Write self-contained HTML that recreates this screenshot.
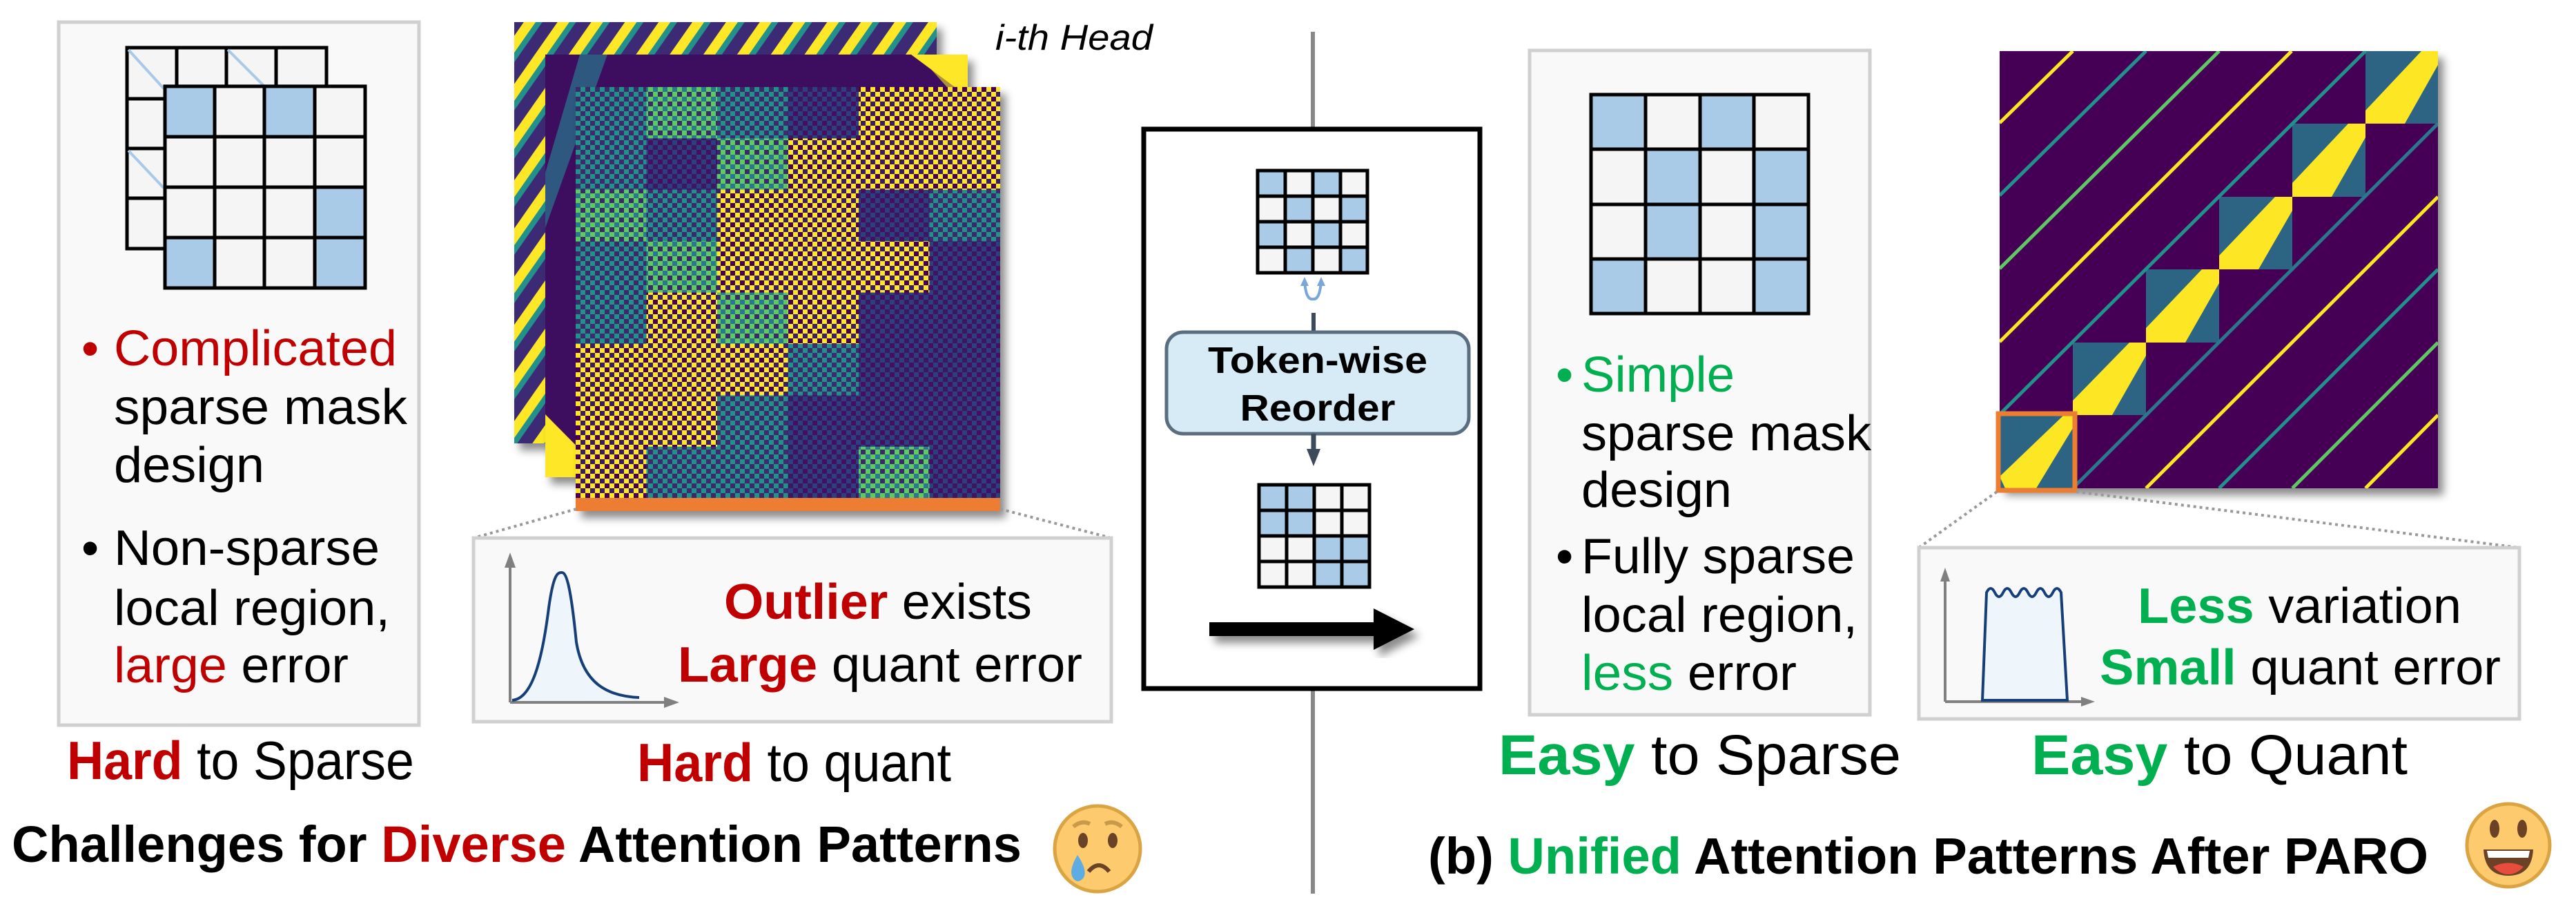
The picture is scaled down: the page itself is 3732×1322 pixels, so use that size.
<!DOCTYPE html>
<html><head><meta charset="utf-8"><style>
html,body{margin:0;padding:0;background:#fff;}
svg{display:block;}
text{font-family:"Liberation Sans",sans-serif;}
</style></head><body>
<svg width="3732" height="1322" viewBox="0 0 3732 1322" xmlns="http://www.w3.org/2000/svg">
<defs>
<filter id="sh" x="-10%" y="-10%" width="130%" height="130%"><feDropShadow dx="8" dy="10" stdDeviation="6" flood-color="#000" flood-opacity="0.45"/></filter>
<pattern id="pA" width="14" height="14" patternUnits="userSpaceOnUse"><rect width="14" height="14" fill="#fde725"/><rect width="7" height="7" fill="#440154"/><rect x="7" y="7" width="7" height="7" fill="#3b1c68"/></pattern>
<pattern id="pB" width="14" height="14" patternUnits="userSpaceOnUse"><rect width="14" height="14" fill="#21918c"/><rect width="7" height="7" fill="#3b2a6b"/><rect x="7" y="7" width="7" height="7" fill="#40296e"/></pattern>
<pattern id="pC" width="14" height="14" patternUnits="userSpaceOnUse"><rect width="14" height="14" fill="#5ec962"/><rect width="7" height="7" fill="#2a788e"/><rect x="7" y="7" width="7" height="7" fill="#3b2a6b"/></pattern>
<pattern id="pD" width="14" height="14" patternUnits="userSpaceOnUse"><rect width="14" height="14" fill="#2c3f7f"/><rect width="7" height="7" fill="#3e1860"/><rect x="7" y="7" width="7" height="7" fill="#471063"/></pattern>
<pattern id="pS" width="40" height="40" patternUnits="userSpaceOnUse" patternTransform="rotate(35)"><rect width="40" height="40" fill="#3d2a74"/><rect width="14" height="40" fill="#fde725"/><rect x="14" width="8" height="40" fill="#21918c"/></pattern>
<clipPath id="cR"><rect x="2897" y="74" width="635" height="633"/></clipPath>
</defs>

<!-- LEFT BOX -->
<rect x="85" y="32" width="522" height="1018" fill="#f9f9f9" stroke="#d0d0d0" stroke-width="5"/>
<!-- back grid -->
<g stroke="#000" stroke-width="5" fill="#f5f5f5">
<rect x="184" y="69" width="289" height="291"/>
<line x1="256" y1="69" x2="256" y2="125"/><line x1="328" y1="69" x2="328" y2="125"/><line x1="400" y1="69" x2="400" y2="125"/>
<line x1="184" y1="143" x2="239" y2="143"/><line x1="184" y1="215" x2="239" y2="215"/><line x1="184" y1="287" x2="239" y2="287"/>
</g>
<g stroke="#a9c9e8" stroke-width="4"><line x1="186" y1="72" x2="237" y2="128"/><line x1="330" y1="72" x2="383" y2="125"/><line x1="186" y1="218" x2="237" y2="272"/></g>
<!-- front grid -->
<rect x="239" y="125" width="290" height="292" fill="#f5f5f5"/>
<g fill="#aacbe8"><rect x="239" y="125" width="72" height="73"/><rect x="383" y="125" width="73" height="73"/><rect x="456" y="271" width="73" height="73"/><rect x="239" y="344" width="72" height="73"/><rect x="456" y="344" width="73" height="73"/></g>
<g stroke="#000" stroke-width="5" fill="none"><rect x="239" y="125" width="290" height="292"/>
<line x1="311" y1="125" x2="311" y2="417"/><line x1="383" y1="125" x2="383" y2="417"/><line x1="456" y1="125" x2="456" y2="417"/>
<line x1="239" y1="198" x2="529" y2="198"/><line x1="239" y1="271" x2="529" y2="271"/><line x1="239" y1="344" x2="529" y2="344"/></g>
<g font-size="72">
<text x="118" y="529" fill="#c00000">•</text>
<text x="165" y="529" fill="#c00000" textLength="410" lengthAdjust="spacingAndGlyphs">Complicated</text>
<text x="165" y="614" textLength="425" lengthAdjust="spacingAndGlyphs">sparse mask</text>
<text x="165" y="698" textLength="218" lengthAdjust="spacingAndGlyphs">design</text>
<text x="118" y="818">•</text>
<text x="165" y="818" textLength="385" lengthAdjust="spacingAndGlyphs">Non-sparse</text>
<text x="165" y="905" textLength="400" lengthAdjust="spacingAndGlyphs">local region,</text>
<text x="165" y="988" textLength="340" lengthAdjust="spacingAndGlyphs"><tspan fill="#c00000">large</tspan> error</text>
</g>
<text x="97" y="1128" font-size="78" textLength="503" lengthAdjust="spacingAndGlyphs"><tspan fill="#c00000" font-weight="bold">Hard</tspan> to Sparse</text>

<!-- LEFT HEATMAPS -->
<rect x="745" y="32" width="612" height="610" fill="url(#pS)" filter="url(#sh)"/>
<g filter="url(#sh)">
<rect x="790" y="79" width="612" height="612" fill="#3e0f5e"/>
<polygon points="790,79 1402,79 1402,160 1330,79" fill="#fde725" opacity="0.6"/>
<polygon points="1320,79 1402,79 1402,140" fill="#fde725"/>
<polygon points="790,600 790,691 880,691" fill="#fde725"/>
<polygon points="790,250 840,79 880,79 790,330" fill="#2a788e" opacity="0.7"/>
</g>
<g filter="url(#sh)">
<g transform="translate(834,126)">
<rect width="615" height="595" fill="url(#pB)"/>
<!-- blocks 6 cols x 8 rows, w=102.5 h=74.4 -->
<rect x="102.5" y="0" width="102.5" height="74.4" fill="url(#pC)"/>
<rect x="307.5" y="0" width="102.5" height="74.4" fill="url(#pD)"/>
<rect x="410" y="0" width="205" height="148.8" fill="url(#pA)"/>
<rect x="102.5" y="74.4" width="102.5" height="74.4" fill="url(#pD)"/>
<rect x="205" y="74.4" width="102.5" height="74.4" fill="url(#pC)"/>
<rect x="307.5" y="74.4" width="102.5" height="74.4" fill="url(#pA)"/>
<rect x="0" y="148.8" width="102.5" height="74.4" fill="url(#pC)"/>
<rect x="205" y="148.8" width="205" height="148.8" fill="url(#pA)"/>
<rect x="410" y="148.8" width="102.5" height="74.4" fill="url(#pD)"/>
<rect x="102.5" y="223.2" width="102.5" height="74.4" fill="url(#pC)"/>
<rect x="410" y="223.2" width="102.5" height="74.4" fill="url(#pA)"/>
<rect x="512.5" y="223.2" width="102.5" height="74.4" fill="url(#pD)"/>
<rect x="102.5" y="297.6" width="102.5" height="74.4" fill="url(#pA)"/>
<rect x="205" y="297.6" width="102.5" height="74.4" fill="url(#pC)"/>
<rect x="307.5" y="297.6" width="102.5" height="74.4" fill="url(#pA)"/>
<rect x="410" y="297.6" width="205" height="223.2" fill="url(#pD)"/>
<rect x="0" y="372" width="307.5" height="74.4" fill="url(#pA)"/>
<rect x="0" y="446.4" width="205" height="74.4" fill="url(#pA)"/>
<rect x="307.5" y="446.4" width="102.5" height="148.8" fill="url(#pD)"/>
<rect x="0" y="520.8" width="102.5" height="74.4" fill="url(#pA)"/>
<rect x="410" y="520.8" width="102.5" height="74.4" fill="url(#pC)"/>
<rect x="512.5" y="520.8" width="102.5" height="74.4" fill="url(#pD)"/>
</g>
<rect x="834" y="721" width="615" height="19" fill="#ed7d31"/>
</g>
<text x="1442" y="72" font-size="52" font-style="italic" textLength="228" lengthAdjust="spacingAndGlyphs">i-th Head</text>

<!-- Left quant box -->
<g stroke="#999" stroke-width="4" stroke-dasharray="4,5"><line x1="835" y1="737" x2="686" y2="779"/><line x1="1449" y1="737" x2="1610" y2="779"/></g>
<rect x="686" y="779" width="924" height="266" fill="#f9f9f9" stroke="#d0d0d0" stroke-width="5"/>
<g stroke="#808080" stroke-width="4" fill="#808080">
<line x1="739" y1="1017" x2="739" y2="815"/><polygon points="739,800 731,822 747,822" stroke="none"/>
<line x1="739" y1="1017" x2="970" y2="1017"/><polygon points="984,1017 962,1009 962,1025" stroke="none"/>
</g>
<path d="M742,1014 C770,1012 785,960 795,880 C802,830 808,829 814,829 C822,829 828,860 835,930 C845,990 880,1008 926,1010 L926,1015 Z" fill="#eef6fb"/>
<path d="M742,1014 C770,1012 785,960 795,880 C802,830 808,829 814,829 C822,829 828,860 835,930 C845,990 880,1008 926,1010" fill="none" stroke="#163f78" stroke-width="4"/>
<text x="1049" y="896" font-size="72" textLength="446" lengthAdjust="spacingAndGlyphs"><tspan fill="#c00000" font-weight="bold">Outlier</tspan> exists</text>
<text x="982" y="987" font-size="72" textLength="586" lengthAdjust="spacingAndGlyphs"><tspan fill="#c00000" font-weight="bold">Large</tspan> quant error</text>
<text x="923" y="1131" font-size="78" textLength="455" lengthAdjust="spacingAndGlyphs"><tspan fill="#c00000" font-weight="bold">Hard</tspan> to quant</text>
<text x="17" y="1248" font-size="74" font-weight="bold" textLength="1463" lengthAdjust="spacingAndGlyphs">Challenges for <tspan fill="#c00000">Diverse</tspan> Attention Patterns</text>
<!-- sad emoji -->
<circle cx="1590" cy="1229" r="62" fill="#fdcb6e" stroke="#d9a441" stroke-width="5"/>
<path d="M1555,1197 q12,-10 24,-4 M1601,1193 q12,-6 24,4" stroke="#c99a4a" stroke-width="6" fill="none"/>
<ellipse cx="1569" cy="1217" rx="7" ry="11" fill="#6b4226"/><ellipse cx="1612" cy="1217" rx="7" ry="11" fill="#6b4226"/>
<path d="M1577,1262 q15,-18 30,0" stroke="#6b4226" stroke-width="6" fill="none"/>
<path d="M1561,1238 q-14,24 -6,34 q6,8 14,0 q8,-10 -8,-34z" fill="#5dade2"/>

<!-- divider -->
<line x1="1902" y1="46" x2="1902" y2="1294" stroke="#888" stroke-width="6"/>

<!-- MIDDLE BOX -->
<rect x="1657" y="187" width="487" height="810" fill="#fff" stroke="#000" stroke-width="7"/>
<g transform="translate(1822,247)">
<rect width="159" height="148" fill="#f5f5f5"/>
<g fill="#aacbe8"><rect x="0" y="0" width="40" height="37"/><rect x="80" y="0" width="40" height="37"/><rect x="40" y="37" width="40" height="37"/><rect x="120" y="37" width="39" height="37"/><rect x="0" y="74" width="40" height="37"/><rect x="80" y="74" width="40" height="37"/><rect x="40" y="111" width="40" height="37"/><rect x="120" y="111" width="39" height="37"/></g>
<g stroke="#000" stroke-width="5" fill="none"><rect width="159" height="148"/><line x1="40" y1="0" x2="40" y2="148"/><line x1="80" y1="0" x2="80" y2="148"/><line x1="120" y1="0" x2="120" y2="148"/><line x1="0" y1="37" x2="159" y2="37"/><line x1="0" y1="74" x2="159" y2="74"/><line x1="0" y1="111" x2="159" y2="111"/></g>
</g>
<path d="M1890,407 q2,28 12,26 q10,2 12,-26" stroke="#7aa6d8" stroke-width="4" fill="none"/>
<polygon points="1890,401 1884,414 1896,414" fill="#7aa6d8"/><polygon points="1914,401 1908,414 1920,414" fill="#7aa6d8"/>
<line x1="1903" y1="453" x2="1903" y2="481" stroke="#3d4a5c" stroke-width="6"/>
<rect x="1690" y="481" width="438" height="147" rx="24" fill="#d6ebf5" stroke="#5a6e80" stroke-width="5"/>
<text x="1909" y="540" font-size="54" font-weight="bold" text-anchor="middle" textLength="318" lengthAdjust="spacingAndGlyphs">Token-wise</text>
<text x="1909" y="609" font-size="54" font-weight="bold" text-anchor="middle" textLength="225" lengthAdjust="spacingAndGlyphs">Reorder</text>
<line x1="1903" y1="628" x2="1903" y2="655" stroke="#3d4a5c" stroke-width="7"/>
<polygon points="1893,650 1913,650 1903,675" fill="#3d4a5c"/>
<g transform="translate(1824,702)">
<rect width="160" height="148" fill="#f5f5f5"/>
<g fill="#aacbe8"><rect x="0" y="0" width="80" height="74"/><rect x="80" y="74" width="80" height="74"/></g>
<g stroke="#000" stroke-width="5" fill="none"><rect width="160" height="148"/><line x1="40" y1="0" x2="40" y2="148"/><line x1="80" y1="0" x2="80" y2="148"/><line x1="120" y1="0" x2="120" y2="148"/><line x1="0" y1="37" x2="160" y2="37"/><line x1="0" y1="74" x2="160" y2="74"/><line x1="0" y1="111" x2="160" y2="111"/></g>
</g>
<g filter="url(#sh)"><rect x="1752" y="901" width="240" height="20" fill="#000"/><polygon points="1990,881 2049,911 1990,941" fill="#000"/></g>

<!-- RIGHT BOX -->
<rect x="2216" y="73" width="493" height="962" fill="#f9f9f9" stroke="#d0d0d0" stroke-width="5"/>
<g transform="translate(2305,137)">
<rect width="315" height="317" fill="#f5f5f5"/>
<g fill="#aacbe8"><rect x="0" y="0" width="79" height="79"/><rect x="158" y="0" width="78" height="79"/><rect x="79" y="79" width="79" height="80"/><rect x="236" y="79" width="79" height="80"/><rect x="79" y="159" width="79" height="79"/><rect x="236" y="159" width="79" height="79"/><rect x="0" y="238" width="79" height="79"/><rect x="236" y="238" width="79" height="79"/></g>
<g stroke="#000" stroke-width="5" fill="none"><rect width="315" height="317"/><line x1="79" y1="0" x2="79" y2="317"/><line x1="158" y1="0" x2="158" y2="317"/><line x1="236" y1="0" x2="236" y2="317"/><line x1="0" y1="79" x2="315" y2="79"/><line x1="0" y1="159" x2="315" y2="159"/><line x1="0" y1="238" x2="315" y2="238"/></g>
</g>
<g font-size="72">
<text x="2254" y="567" fill="#00b050">•</text>
<text x="2291" y="567" fill="#00b050" textLength="222" lengthAdjust="spacingAndGlyphs">Simple</text>
<text x="2291" y="652" textLength="420" lengthAdjust="spacingAndGlyphs">sparse mask</text>
<text x="2291" y="734" textLength="218" lengthAdjust="spacingAndGlyphs">design</text>
<text x="2254" y="830">•</text>
<text x="2291" y="830" textLength="396" lengthAdjust="spacingAndGlyphs">Fully sparse</text>
<text x="2291" y="915" textLength="400" lengthAdjust="spacingAndGlyphs">local region,</text>
<text x="2291" y="999" textLength="312" lengthAdjust="spacingAndGlyphs"><tspan fill="#00b050">less</tspan> error</text>
</g>
<text x="2171" y="1121" font-size="82" textLength="583" lengthAdjust="spacingAndGlyphs"><tspan fill="#00b050" font-weight="bold">Easy</tspan> to Sparse</text>
<text x="2943" y="1121" font-size="82" textLength="545" lengthAdjust="spacingAndGlyphs"><tspan fill="#00b050" font-weight="bold">Easy</tspan> to Quant</text>

<!-- right heatmap -->
<g filter="url(#sh)">
<rect x="2897" y="74" width="635" height="633" fill="#440154"/>
</g>
<g clip-path="url(#cR)">
<g fill="#2a6f8a" opacity="0.9">
<polygon points="2897,707 3003,707 3003,601 2897,601"/>
<polygon points="3003,601 3109,601 3109,496 3003,496"/>
<polygon points="3109,496 3215,496 3215,390 3109,390"/>
<polygon points="3215,390 3321,390 3321,285 3215,285"/>
<polygon points="3321,285 3427,285 3427,179 3321,179"/>
<polygon points="3427,179 3532,179 3532,74 3427,74"/>
</g>
<g fill="#fde725">
<polygon points="2905,707 2950,707 3003,620 3003,601 2990,601 2897,690"/>
<polygon points="3003,601 3060,601 3109,515 3109,496 3085,496 3003,580"/>
<polygon points="3109,496 3166,496 3215,410 3215,390 3190,390 3109,475"/>
<polygon points="3215,390 3272,390 3321,305 3321,285 3296,285 3215,370"/>
<polygon points="3321,285 3378,285 3427,199 3427,179 3402,179 3321,265"/>
<polygon points="3427,179 3484,179 3532,94 3532,74 3508,74 3427,160"/>
</g>
<g stroke-width="5" fill="none">
<line x1="2897" y1="495" x2="3320" y2="74" stroke="#fde725"/>
<line x1="2897" y1="389" x2="3215" y2="74" stroke="#5ec962"/>
<line x1="2897" y1="283" x2="3109" y2="74" stroke="#21918c"/>
<line x1="2897" y1="178" x2="3003" y2="74" stroke="#fde725"/>
<line x1="2897" y1="600" x2="3427" y2="74" stroke="#21918c"/>
<line x1="3109" y1="707" x2="3532" y2="285" stroke="#fde725"/>
<line x1="3215" y1="707" x2="3532" y2="390" stroke="#21918c"/>
<line x1="3321" y1="707" x2="3532" y2="496" stroke="#5ec962"/>
<line x1="3427" y1="707" x2="3532" y2="601" stroke="#fde725"/>
<line x1="3003" y1="707" x2="3532" y2="179" stroke="#2a788e"/>
</g>
</g>
<rect x="2895" y="599" width="111" height="111" fill="none" stroke="#ed7d31" stroke-width="7"/>
<g stroke="#999" stroke-width="4" stroke-dasharray="4,5"><line x1="2893" y1="712" x2="2780" y2="793"/><line x1="3008" y1="712" x2="3650" y2="793"/></g>
<rect x="2780" y="793" width="870" height="248" fill="#f9f9f9" stroke="#d0d0d0" stroke-width="5"/>
<g stroke="#808080" stroke-width="4" fill="#808080">
<line x1="2818" y1="1016" x2="2818" y2="835"/><polygon points="2818,822 2811,842 2825,842" stroke="none"/>
<line x1="2818" y1="1016" x2="3022" y2="1016"/><polygon points="3035,1016 3015,1009 3015,1023" stroke="none"/>
</g>
<path d="M2872,1014 L2878,858 q6,-12 12,0 q6,12 12,0 q6,-12 12,0 q6,12 12,0 q6,-12 12,0 q6,12 12,0 q6,-12 12,0 q6,12 12,0 q6,-12 12,0 L2995,1014 Z" fill="#eef6fb" stroke="#163f78" stroke-width="4"/>
<text x="3097" y="902" font-size="72" textLength="469" lengthAdjust="spacingAndGlyphs"><tspan fill="#00b050" font-weight="bold">Less</tspan> variation</text>
<text x="3042" y="991" font-size="72" textLength="581" lengthAdjust="spacingAndGlyphs"><tspan fill="#00b050" font-weight="bold">Small</tspan> quant error</text>
<text x="2069" y="1265" font-size="74" font-weight="bold" textLength="1449" lengthAdjust="spacingAndGlyphs">(b) <tspan fill="#00b050">Unified</tspan> Attention Patterns After PARO</text>
<!-- happy emoji -->
<circle cx="3634" cy="1224" r="60" fill="#fdcb6e" stroke="#d9a441" stroke-width="5"/>
<ellipse cx="3614" cy="1200" rx="7" ry="13" fill="#6b4226"/><ellipse cx="3654" cy="1200" rx="7" ry="13" fill="#6b4226"/>
<path d="M3598,1230 L3670,1230 Q3668,1268 3634,1268 Q3600,1268 3598,1230 Z" fill="#6b4226"/>
<path d="M3603,1232 L3665,1232 L3663,1242 L3605,1242 Z" fill="#fff"/>
<path d="M3612,1255 Q3634,1244 3656,1255 Q3646,1266 3634,1266 Q3622,1266 3612,1255 Z" fill="#e74c3c"/>
</svg>
</body></html>
